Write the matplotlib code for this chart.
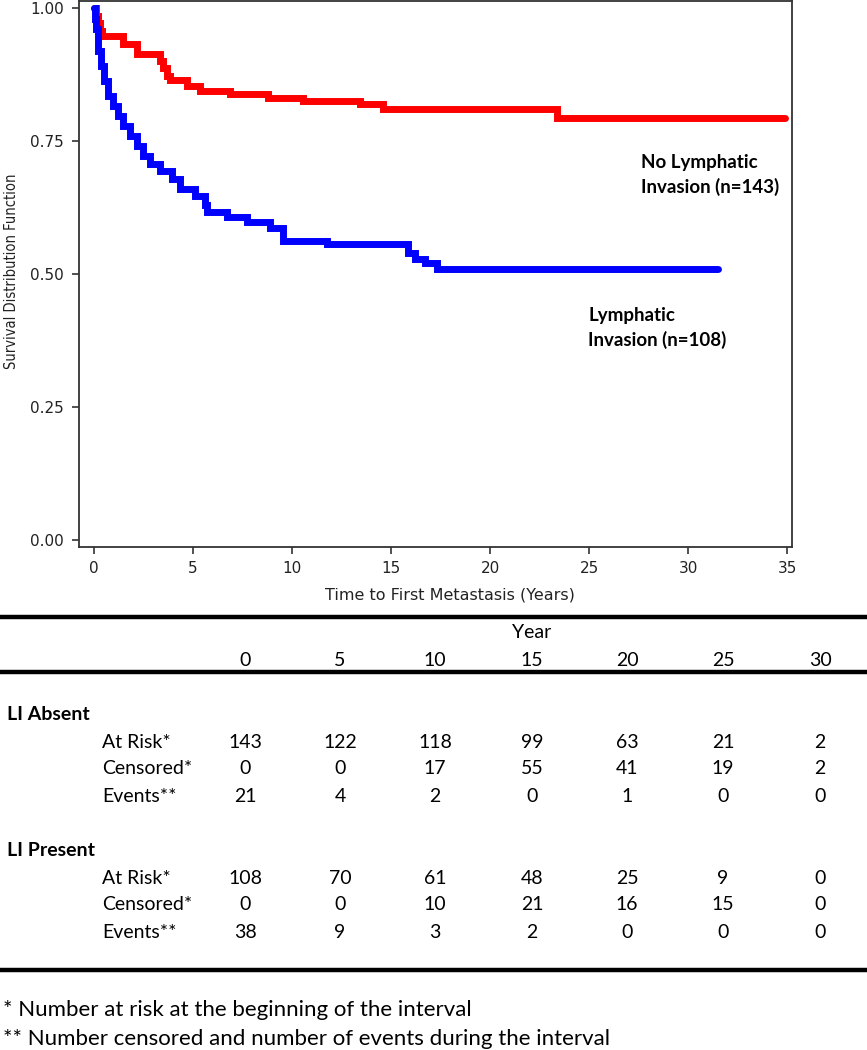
import matplotlib
matplotlib.use("Agg")
import matplotlib.pyplot as plt
from matplotlib.lines import Line2D

W, H, DPI = 867, 1050, 100

# ---------------- data ----------------
# Kaplan-Meier step points (years, survival)
t_absent = [0.0, 0.1, 0.2, 0.3, 0.4, 1.46, 2.17, 3.33, 3.48, 3.69, 3.84, 4.70,
            5.35, 6.87, 8.79, 10.56, 13.43, 14.6, 23.4, 34.9]
s_absent = [1.0, 0.985, 0.972, 0.958, 0.947, 0.932, 0.914, 0.900, 0.887, 0.872,
            0.865, 0.854, 0.844, 0.839, 0.832, 0.826, 0.819, 0.810, 0.794, 0.794]

t_present = [0.0, 0.05, 0.1, 0.2, 0.35, 0.5, 0.71, 0.96, 1.21, 1.46, 1.82, 2.17,
             2.47, 2.83, 3.33, 3.94, 4.34, 5.10, 5.61, 5.71, 6.72, 7.73, 8.89,
             9.55, 11.77, 15.86, 16.2, 16.7, 17.3, 31.5]
s_present = [1.0, 0.98, 0.96, 0.919, 0.891, 0.863, 0.835, 0.816, 0.797, 0.779,
             0.760, 0.741, 0.722, 0.707, 0.694, 0.679, 0.660, 0.647, 0.630, 0.617,
             0.608, 0.598, 0.587, 0.563, 0.556, 0.540, 0.529, 0.520, 0.510, 0.510]

x_ticks = [0, 5, 10, 15, 20, 25, 30, 35]
y_ticks = [0.00, 0.25, 0.50, 0.75, 1.00]

label_absent = "No Lymphatic\nInvasion (n=143)"
label_present = "Lymphatic\nInvasion (n=108)"

years = ["0", "5", "10", "15", "20", "25", "30"]
row_names = ["At Risk*", "Censored*", "Events**"]
absent_at_risk = [143, 122, 118, 99, 63, 21, 2]
absent_censored = [0, 0, 17, 55, 41, 19, 2]
absent_events = [21, 4, 2, 0, 1, 0, 0]
present_at_risk = [108, 70, 61, 48, 25, 9, 0]
present_censored = [0, 0, 10, 21, 16, 15, 0]
present_events = [38, 9, 3, 2, 0, 0, 0]

footnote1 = "* Number at risk at the beginning of the interval"
footnote2 = "** Number censored and number of events during the interval"

# ---------------- figure ----------------
fig = plt.figure(figsize=(W / DPI, H / DPI), dpi=DPI)

def fx(px):
    return px / W

def fy(py):
    return 1 - py / H

ax_l, ax_r, ax_t, ax_b = 79, 792, 1, 547
ax = fig.add_axes([fx(ax_l), fy(ax_b), (ax_r - ax_l) / W, (ax_b - ax_t) / H])

ax.step(t_absent, s_absent, where="post", color="#ff0000", lw=5.0,
        solid_capstyle="round", solid_joinstyle="miter")
ax.step(t_present, s_present, where="post", color="#0000ff", lw=5.0,
        solid_capstyle="round", solid_joinstyle="miter")

ax.set_xlim(-0.76, 35.25)
ax.set_ylim(-0.013, 1.0135)
ax.set_xticks(x_ticks)
ax.set_yticks(y_ticks)
ax.set_yticklabels([f"{v:.2f}" for v in y_ticks])
for sp in ax.spines.values():
    sp.set_color("#333333")
    sp.set_linewidth(1.3)
ax.tick_params(axis="both", direction="out", length=5, width=1.2, color="#333333",
               labelsize=11, labelcolor="#222222")
ax.tick_params(axis="x", pad=5)
ax.tick_params(axis="y", pad=6)

fig.text(fx(450), fy(595), "Time to First Metastasis (Years)", ha="center",
         va="center", fontsize=11.5, color="#222222")
fig.text(fx(12), fy(271), "Survival Distribution Function", rotation=90,
         ha="center", va="center", fontsize=10.5, color="#222222",
         family="DejaVu Sans", fontstretch="condensed")

bold_font = ["Lato", "DejaVu Sans"]
ax.text(fx(641), fy(175), label_absent, transform=fig.transFigure, ha="left",
        va="center", fontsize=13.5, fontweight="bold", family=bold_font,
        linespacing=1.4)
ax.text(fx(588), fy(328), label_present, transform=fig.transFigure, ha="left",
        va="center", fontsize=13.5, fontweight="bold", family=bold_font,
        linespacing=1.4)

# ---------------- risk table ----------------
tfont = ["Lato", "DejaVu Sans"]
tsize = 14
col_x = [245, 340, 435, 532, 627, 723, 820]

for yy in (617, 672, 970):
    fig.add_artist(Line2D([0, 1], [fy(yy), fy(yy)], color="black", lw=3.2,
                          transform=fig.transFigure))

fig.text(fx(532), fy(632), "Year", ha="center", va="center", fontsize=tsize,
         family=tfont)
for cx, yl in zip(col_x, years):
    fig.text(fx(cx), fy(660), yl, ha="center", va="center", fontsize=tsize,
             family=tfont)

groups = [
    ("LI Absent", 715, [absent_at_risk, absent_censored, absent_events]),
    ("LI Present", 851, [present_at_risk, present_censored, present_events]),
]
row_step = 27
for gname, gy, rows in groups:
    fig.text(fx(7), fy(gy), gname, ha="left", va="center", fontsize=tsize,
             fontweight="bold", family=tfont)
    for i, (rname, vals) in enumerate(zip(row_names, rows)):
        ry = gy + row_step * (i + 1)
        fig.text(fx(102), fy(ry), rname, ha="left", va="center", fontsize=tsize,
                 family=tfont)
        for cx, v in zip(col_x, vals):
            fig.text(fx(cx), fy(ry), str(v), ha="center", va="center",
                     fontsize=tsize, family=tfont)

fig.text(fx(3), fy(1010), footnote1, ha="left", va="center", fontsize=16,
         family=tfont)
fig.text(fx(3), fy(1039), footnote2, ha="left", va="center", fontsize=16,
         family=tfont)

fig.savefig("out.png", dpi=DPI)
